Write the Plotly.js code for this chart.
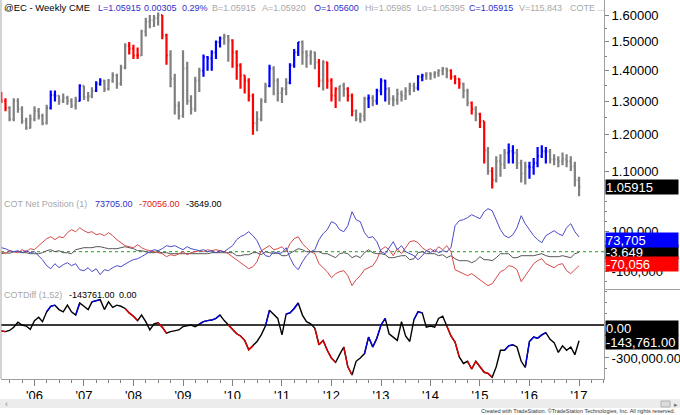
<!DOCTYPE html>
<html><head><meta charset="utf-8">
<script src="https://cdn.plot.ly/plotly-3.0.1.min.js"></script>
<style>html,body{margin:0;padding:0;background:#fff}#chart{width:680px;height:415px}</style>
</head><body><div id="chart"></div>
<script>
// Monthly samples, first sample = May 2005
const firstYear = 2005, firstMonth = 5;
const firstOpen = 1.317;
const priceClose = [1.302,1.280,1.246,1.302,1.277,1.240,1.220,1.246,
 1.271,1.256,1.234,1.280,1.320,1.318,1.302,1.311,1.302,1.287,
 1.302,1.350,1.314,1.317,1.334,1.357,1.367,1.340,1.367,1.384,
 1.357,1.410,1.486,1.476,1.452,1.452,1.538,1.575,1.581,1.588,
 1.600,1.525,1.452,1.373,1.287,1.256,1.407,1.302,1.277,1.367,
 1.400,1.446,1.442,1.463,1.499,1.513,1.520,1.506,1.463,1.418,
 1.384,1.367,1.318,1.234,1.246,1.302,1.350,1.407,1.367,1.327,
 1.340,1.360,1.418,1.463,1.499,1.463,1.452,1.463,1.428,1.367,
 1.428,1.367,1.318,1.340,1.350,1.340,1.318,1.271,1.246,1.256,
 1.308,1.311,1.302,1.334,1.367,1.340,1.308,1.305,1.324,1.318,
 1.334,1.350,1.343,1.380,1.384,1.390,1.387,1.393,1.400,1.407,
 1.400,1.380,1.373,1.357,1.334,1.296,1.277,1.262,1.240,1.156,
 1.100,1.076,1.126,1.118,1.149,1.153,1.149,1.121,1.094,1.112,
 1.110,1.121,1.140,1.153,1.153,1.131,1.131,1.126,1.131,1.126,
 1.112,1.076,1.05915];
const priceHigh = [1.330,1.310,1.285,1.310,1.310,1.285,1.250,1.260,
 1.285,1.280,1.262,1.290,1.335,1.335,1.320,1.325,1.318,1.310,
 1.315,1.355,1.350,1.330,1.345,1.365,1.375,1.370,1.372,1.395,
 1.390,1.420,1.495,1.500,1.490,1.480,1.545,1.590,1.600,1.600,
 1.610,1.600,1.530,1.470,1.390,1.300,1.470,1.430,1.320,1.380,
 1.410,1.455,1.450,1.470,1.505,1.520,1.530,1.525,1.510,1.470,
 1.425,1.385,1.375,1.325,1.270,1.310,1.360,1.420,1.415,1.375,
 1.345,1.375,1.425,1.475,1.500,1.505,1.470,1.470,1.465,1.440,
 1.435,1.430,1.375,1.345,1.350,1.360,1.345,1.325,1.275,1.265,
 1.315,1.322,1.320,1.340,1.375,1.370,1.345,1.320,1.340,1.335,
 1.345,1.360,1.360,1.385,1.390,1.395,1.395,1.398,1.405,1.412,
 1.410,1.405,1.385,1.375,1.360,1.340,1.300,1.285,1.265,1.240,
 1.165,1.110,1.140,1.145,1.160,1.175,1.170,1.160,1.130,1.125,
 1.125,1.135,1.165,1.170,1.165,1.160,1.145,1.140,1.150,1.145,
 1.140,1.125,1.085];
const priceLow = [1.295,1.270,1.240,1.240,1.265,1.232,1.215,1.218,
 1.240,1.245,1.228,1.230,1.275,1.300,1.290,1.295,1.290,1.280,
 1.275,1.300,1.305,1.300,1.310,1.330,1.350,1.330,1.335,1.360,
 1.340,1.350,1.405,1.455,1.440,1.440,1.450,1.520,1.550,1.555,
 1.560,1.510,1.420,1.345,1.260,1.245,1.250,1.290,1.260,1.268,
 1.330,1.380,1.400,1.400,1.440,1.480,1.490,1.430,1.410,1.370,
 1.340,1.325,1.300,1.200,1.210,1.240,1.295,1.345,1.320,1.300,
 1.295,1.320,1.355,1.410,1.450,1.420,1.410,1.420,1.405,1.345,
 1.335,1.340,1.300,1.280,1.300,1.315,1.300,1.255,1.240,1.235,
 1.240,1.280,1.285,1.290,1.320,1.300,1.290,1.285,1.290,1.300,
 1.305,1.320,1.330,1.335,1.365,1.370,1.370,1.375,1.380,1.385,
 1.375,1.370,1.355,1.340,1.310,1.285,1.260,1.240,1.220,1.120,
 1.090,1.055,1.070,1.085,1.105,1.120,1.120,1.105,1.070,1.065,
 1.080,1.090,1.110,1.135,1.120,1.120,1.115,1.110,1.115,1.110,
 1.100,1.060,1.035];
// COT net positions, thousands of contracts
const cotCommercial = [20,15,5,0,5,-5,5,-5,
 0,-20,-40,-70,-85,-60,-80,-65,-55,-70,
 -60,-90,-95,-80,-100,-85,-115,-90,-95,-80,
 -70,-75,-60,-50,-40,-35,-25,-10,0,10,
 5,15,30,25,30,20,10,25,15,10,
 5,10,0,5,-5,5,0,15,30,60,
 75,85,100,80,55,10,-20,-25,0,-10,
 -5,20,-30,-70,-90,-50,-20,0,10,60,
 90,110,150,140,110,100,130,200,160,150,
 95,70,75,50,0,-10,20,50,10,30,
 0,-10,-20,-40,-20,5,-5,10,-5,5,
 0,20,130,155,160,170,185,175,165,200,
 215,205,160,110,80,70,85,120,180,140,
 110,80,60,45,80,95,105,90,80,120,
 140,100,73.705];
const cotLargeSpec = [0,-10,5,0,-5,10,0,15,
 10,30,45,65,75,60,75,70,95,110,
 100,120,105,95,100,85,90,80,95,80,
 60,45,30,25,20,35,20,10,5,0,
 -5,-10,-25,-15,-20,-10,0,-15,-5,0,
 5,0,10,5,10,5,0,-10,-25,-40,
 -55,-70,-85,-75,-50,5,20,30,10,15,
 25,0,40,65,75,40,20,0,-10,-60,
 -80,-100,-130,-110,-100,-95,-120,-170,-140,-120,
 -90,-80,-70,-40,10,25,10,-20,15,-10,
 20,50,55,45,20,5,15,0,25,10,
 30,0,-90,-100,-110,-120,-110,-125,-140,-160,
 -170,-160,-130,-100,-90,-70,-75,-90,-150,-120,
 -90,-60,-45,-35,-60,-70,-80,-65,-60,-95,
 -110,-90,-70.056];
const cotSmallSpec = [-10,-5,-8,0,0,-5,-5,-10,
 -10,-10,-5,5,10,0,5,-5,-5,-10,
 10,15,20,20,20,25,25,20,15,15,
 15,20,25,20,15,5,5,0,-5,-5,
 0,-5,-5,-10,-10,-10,-10,-10,-10,-10,
 -10,-10,-10,-5,-5,-5,-5,-5,-5,-20,
 -20,-15,-15,-5,-5,-15,0,-5,-10,-5,
 -20,-20,-10,5,15,10,0,0,0,0,
 -10,-10,-20,-30,-10,-5,-10,-30,-20,-30,
 -5,10,-5,-10,-10,-15,-30,-30,-25,-20,
 -20,-40,-35,-5,0,-10,-10,-10,-20,-15,
 -30,-20,-35,-45,-45,-45,-55,-45,-25,-40,
 -40,-45,-30,-10,-10,-10,-30,-30,-20,-20,
 -20,-20,-15,-10,-20,-25,-25,-25,-20,-25,
 -30,-10,-3.649];
const cotDiff = [-55,-60,-50,-20,25,0,-10,-40,
 40,70,30,120,170,180,140,120,180,120,
 90,200,170,140,210,220,230,140,210,160,
 180,170,150,110,80,40,90,30,-45,10,
 20,-20,-75,-60,-50,-45,-15,-5,0,-15,
 10,30,40,45,60,90,40,0,-45,-80,
 -100,-140,-225,-190,-150,-90,-10,135,100,60,
 -90,100,110,150,200,90,30,10,-30,-180,
 -140,-230,-300,-340,-270,-200,-380,-455,-330,-300,
 -260,-110,-200,-120,0,60,-80,-110,-140,30,
 -100,-150,50,120,110,-20,-10,-20,60,80,
 -10,-100,-155,-290,-350,-330,-400,-330,-380,-430,
 -440,-475,-380,-230,-230,-190,-180,-200,-330,-385,
 -150,-110,-120,-90,-70,-130,-160,-250,-190,-230,
 -200,-270,-143.761];
// bar colouring: r = red, b = blue, . = neutral
const signalCodes = ("rr........" + "..bb.....b" + "...bb....." + ".rrr.....r" + "r........b" +
  "bbbb..rrrr" + "rr...b...." + "bbb....r.r" + "rr..rr...b" + ".bbb......" +
  ".bb......r" + "rr..r.rr.r" + "...bb...bb" + "bbb......." + ".").split('');
const priceTickVals = [1.1,1.2,1.3,1.4,1.5,1.6];
const priceTickText = ['1.10000','1.20000','1.30000','1.40000','1.50000','1.60000'];

const FONT = 'Liberation Sans, Arial, sans-serif';
const W = 680, H = 415, ML = 1, MR = 76, MT = 0, MB = 36;
const PW = W - ML - MR, PH = H - MT - MB;
const px = x => (x - ML) / PW;
const py = y => (PH + MT - y) / PH;

const months = priceClose.map((_, i) => new Date(Date.UTC(firstYear, firstMonth - 1 + i, 1)).toISOString().slice(0, 10));
const opens = priceClose.map((c, i) => i === 0 ? firstOpen : priceClose[i - 1]);
const sig = months.map((_, i) => signalCodes[i] || '.');

function ohlcFor(code, color) {
  const idx = sig.map((c, i) => c === code ? i : -1).filter(i => i >= 0);
  return {
    type: 'ohlc', xaxis: 'x', yaxis: 'y', hoverinfo: 'skip', showlegend: false,
    x: idx.map(i => months[i]), open: idx.map(i => opens[i]), high: idx.map(i => priceHigh[i]),
    low: idx.map(i => priceLow[i]), close: idx.map(i => priceClose[i]), tickwidth: 0.35,
    increasing: {line: {color: color, width: 2.2}}, decreasing: {line: {color: color, width: 2.2}}
  };
}
function diffSeg(code) {
  const y = cotDiff.map(() => null);
  sig.forEach((c, i) => { if (c === code) { y[i] = cotDiff[i]; if (i > 0) y[i - 1] = cotDiff[i - 1]; } });
  return y;
}
const line = (y, ax, color, w) => ({type: 'scatter', mode: 'lines', x: months, y: y, xaxis: 'x', yaxis: ax,
  line: {color: color, width: w}, hoverinfo: 'skip', showlegend: false, connectgaps: false});

const traces = [
  ohlcFor('.', '#808080'), ohlcFor('r', '#ff0000'), ohlcFor('b', '#0000ff'),
  line(cotSmallSpec, 'y2', '#555555', 1),
  line(cotLargeSpec, 'y2', '#d44a4a', 1),
  line(cotCommercial, 'y2', '#4a4ac8', 1),
  line(cotDiff, 'y3', '#000000', 1.4),
  line(diffSeg('r'), 'y3', '#e00000', 1.4),
  line(diffSeg('b'), 'y3', '#0000e0', 1.4)
];

const axisCommon = {side: 'right', anchor: 'x', showgrid: false, zeroline: false, showline: true,
  linecolor: '#a0a0a0', linewidth: 1, ticks: 'outside', ticklen: 4, tickcolor: '#808080',
  tickfont: {family: FONT, size: 13, color: '#000'}, tickmode: 'array', fixedrange: true};

const txt = (x, y, s, color, size, anchor) => ({xref: 'paper', yref: 'paper', x: px(x), y: py(y), text: s,
  showarrow: false, xanchor: anchor || 'left', yanchor: 'middle',
  font: {family: FONT, size: size || 9, color: color}});
const box = (yref, yv, s, bg, shift) => ({xref: 'paper', yref: yref, x: 1, xshift: 1, y: yv, yshift: shift || 0,
  text: s, showarrow: false, xanchor: 'left', yanchor: 'middle', align: 'left', width: 72, height: 14,
  bgcolor: bg, borderpad: 0, font: {family: FONT, size: 13, color: '#fff'}});

const blue = '#2f2fc8', grey = '#a8a8a8';
const annotations = [
  txt(2, 8, '@EC - Weekly', '#000', 9.5), txt(67, 8, 'CME', '#000', 9.5),
  txt(96, 8, 'L=1.05915', blue), txt(142, 8, '0.00305', blue), txt(180, 8, '0.29%', blue),
  txt(210, 8, 'B=1.05915', grey), txt(260, 8, 'A=1.05920', grey), txt(312, 8, 'O=1.05600', blue),
  txt(363, 8, 'Hi=1.05985', grey), txt(415, 8, 'Lo=1.05395', grey), txt(467, 8, 'C=1.05915', blue),
  txt(517, 8, 'V=115,843', grey), txt(568, 8, 'COTE ...', grey),
  txt(2, 204, 'COT Net Position (1)', grey), txt(93, 204, '73705.00', blue),
  txt(137, 204, '-70056.00', '#e02020'), txt(184, 204, '-3649.00', '#000'),
  txt(2, 295, 'COTDiff (1,52)', grey), txt(67, 295, '-143761.00', '#000'), txt(117, 295, '0.00', '#000'),
  box('y', Math.log10(priceClose[priceClose.length - 1]), '1.05915', '#000', 0),
  box('y2', cotSmallSpec[cotSmallSpec.length - 1], '-3,649', '#000', 0),
  box('y2', cotCommercial[cotCommercial.length - 1], '73,705', '#0000ff', -3),
  box('y2', cotLargeSpec[cotLargeSpec.length - 1], '-70,056', '#ff0000', 2),
  box('y3', 0, '0.00', '#000', -3),
  box('y3', cotDiff[cotDiff.length - 1], '-143,761.00', '#000', -1),
  txt(678, 411, 'Created with TradeStation. \u00a9TradeStation Technologies, Inc. All rights reserved.', '#333', 5.5, 'right'),
  txt(3, 404, '\u2039', '#888', 9, 'left'), txt(672, 404, '\u25b8', '#777', 7, 'left')
];

const layout = {
  width: W, height: H, margin: {l: ML, r: MR, t: MT, b: MB, pad: 0},
  paper_bgcolor: '#fff', plot_bgcolor: '#fff', showlegend: false, font: {family: FONT},
  xaxis: {type: 'date', range: ['2005-04-29', '2017-07-04'], anchor: 'y3', domain: [0, 1],
    rangeslider: {visible: false}, showgrid: false, zeroline: false, showline: true, linecolor: '#a0a0a0',
    ticks: 'outside', ticklen: 6, tickcolor: '#808080', tick0: '2006-01-01', dtick: 'M12', tickformat: "'%y",
    tickfont: {family: FONT, size: 13, color: '#000'}, ticklabelstandoff: -2,
    minor: {dtick: 'M3', ticks: 'outside', ticklen: 3, tickcolor: '#808080'}, fixedrange: true},
  yaxis: Object.assign({}, axisCommon, {type: 'log', domain: [py(197), 1],
    range: [Math.log10(1.0334), Math.log10(1.659)], tickvals: priceTickVals, ticktext: priceTickText,
    minor: {tickvals: [1.05, 1.15, 1.25, 1.35, 1.45, 1.55], ticks: 'outside', ticklen: 2, tickcolor: '#808080'}}),
  yaxis2: Object.assign({}, axisCommon, {domain: [py(290), py(197)], range: [-191.5, 273.5],
    tickvals: [-100, 100], ticktext: ['-100,000', '100,000'],
    minor: {tickvals: [-150, -50, 50, 150, 200, 250], ticks: 'outside', ticklen: 2, tickcolor: '#808080'}}),
  yaxis3: Object.assign({}, axisCommon, {domain: [0, py(290)], range: [-491, 318],
    tickvals: [-300], ticktext: ['-300,000.00'],
    minor: {tickvals: [-400, -200, -100, 100, 200, 300], ticks: 'outside', ticklen: 2, tickcolor: '#808080'}}),
  shapes: [
    {type: 'line', xref: 'paper', yref: 'y2', x0: 0, x1: 1, y0: 0, y1: 0, layer: 'below',
      line: {color: '#1aa01a', width: 1, dash: 'dot'}},
    {type: 'line', xref: 'paper', yref: 'y3', x0: 0, x1: 1, y0: 0, y1: 0, layer: 'below',
      line: {color: '#3a3a3a', width: 2}},
    {type: 'line', xref: 'paper', yref: 'paper', x0: px(1), x1: px(1), y0: 0, y1: 1,
      line: {color: '#a8a8a8', width: 1}},
    {type: 'line', xref: 'paper', yref: 'paper', x0: 1, x1: px(680), y0: py(289.5), y1: py(289.5),
      line: {color: '#a0a0a0', width: 1}},
    {type: 'rect', xref: 'paper', yref: 'paper', x0: px(0), x1: px(680), y0: py(399), y1: py(408),
      fillcolor: '#ececec', line: {width: 0}},
    {type: 'rect', xref: 'paper', yref: 'paper', x0: px(661), x1: px(670), y0: py(401), y1: py(407),
      fillcolor: '#dcdcdc', line: {color: '#b0b0b0', width: 1}}
  ],
  annotations: annotations
};

Plotly.newPlot('chart', traces, layout, {staticPlot: true, displayModeBar: false});
</script>
</body></html>
